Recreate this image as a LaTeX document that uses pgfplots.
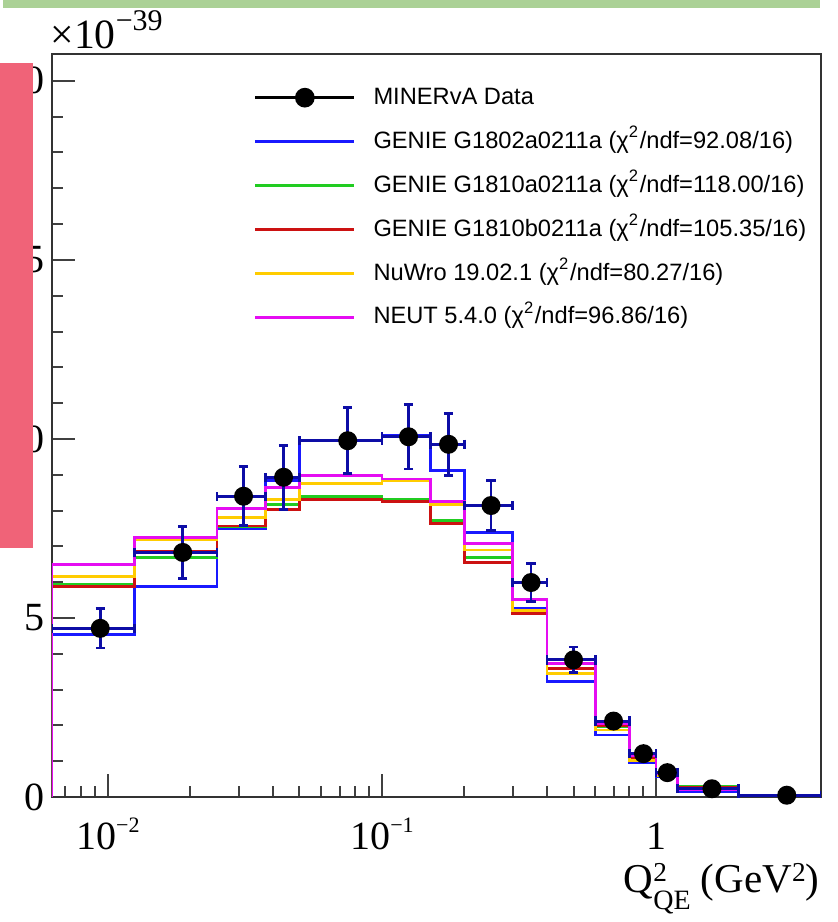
\documentclass[border=0pt]{standalone}
\usepackage{fontspec}
\setmainfont{Liberation Serif}
\newfontfamily\legfont{Liberation Sans}
\usepackage{pgfplots}
\usepackage{pgfplotstable}
\pgfplotsset{compat=1.18}

\definecolor{gblue}{rgb}{0.10,0.10,1.00}
\definecolor{ggreen}{rgb}{0.13,0.80,0.13}
\definecolor{gred}{rgb}{0.80,0.07,0.07}
\definecolor{nuwro}{rgb}{1.00,0.80,0.00}
\definecolor{neut}{rgb}{0.90,0.05,0.95}
\definecolor{navyc}{rgb}{0.05,0.05,0.65}
\definecolor{pinkc}{rgb}{0.94,0.39,0.47}
\definecolor{barc}{rgb}{0.67,0.82,0.59}

\newcommand{\tsup}[1]{\raisebox{5pt}{\fontsize{6.6}{7}\selectfont #1}}
\newcommand{\lsup}[1]{\raisebox{3.2pt}{\fontsize{8.2}{9}\selectfont #1}}

\pgfplotsset{
    datalegend/.style={legend image code/.code={%
        \draw[mark repeat=2, mark phase=2, ##1] plot coordinates {(0pt,0pt) (14.85pt,0pt) (29.7pt,0pt)};}},
}

% MINERvA data: bin centre, value, bin edges as x errors, y error
\pgfplotstableread{
x        y     xm        xp       ey
0.009375 4.71  0.003125  0.003125 0.55
0.01875  6.83  0.00625   0.00625  0.73
0.03125  8.40  0.00625   0.00625  0.82
0.04375  8.93  0.00625   0.00625  0.89
0.075    9.95  0.025     0.025    0.92
0.125    10.06 0.025     0.025    0.90
0.175    9.85  0.025     0.025    0.86
0.25     8.14  0.05      0.05     0.69
0.35     5.99  0.05      0.05     0.52
0.5      3.83  0.1       0.1      0.36
0.7      2.12  0.1       0.1      0.12
0.9      1.21  0.1       0.1      0.08
1.1      0.68  0.1       0.1      0.05
1.6      0.23  0.4       0.4      0.02
3.0      0.05  1.0       1.0      0.01
}\datatab

% generator predictions, value of the bin starting at e
\pgfplotstableread{
e       b     g     r     y     m
0.00625 0     0     0     0     0
0.00625 4.53  5.95  5.87  6.15  6.50
0.0125  5.87  6.69  6.85  7.18  7.25
0.025   7.50  7.55  7.57  7.81  8.06
0.0375  8.84  8.18  8.02  8.32  8.65
0.05    9.95  8.39  8.30  8.76  8.98
0.1     10.11 8.30  8.25  8.83  8.88
0.15    9.13  7.72  7.63  8.18  8.25
0.2     7.39  6.70  6.54  6.90  7.09
0.3     5.27  5.16  5.13  5.22  5.52
0.4     3.22  3.59  3.60  3.45  3.73
0.6     1.73  1.98  1.99  1.87  2.06
0.8     0.96  1.10  1.11  1.01  1.17
1.0     0.57  0.62  0.62  0.60  0.66
1.2     0.16  0.29  0.26  0.22  0.20
2.0     0.03  0.05  0.05  0.04  0.04
4.0     0.03  0.05  0.05  0.04  0.04
}\mctab

\begin{document}
\begin{tikzpicture}
\begin{axis}[
    scale only axis,
    width=230.7pt, height=222.9pt,
    xmode=log,
    xmin=0.00625, xmax=4,
    ymin=0, ymax=20.75,
    axis line style={black!80, line width=0.7pt},
    every tick/.style={black!75, line width=0.6pt},
    major tick length=6.8pt, minor tick length=3.3pt,
    tick align=inside, tick pos=left,
    xtick={0.01,0.1,1},
    xticklabels={{10\tsup{−2}},{10\tsup{−1}},1},
    minor xtick={0.007,0.008,0.009,0.02,0.03,0.04,0.05,0.06,0.07,0.08,0.09,0.2,0.3,0.4,0.5,0.6,0.7,0.8,0.9},
    ytick={0,5,10,15,20},
    yticklabels={0,5,10,15,20},
    minor y tick num=4,
    tick label style={font=\fontsize{12}{13}\selectfont},
    xticklabel style={anchor=base, inner sep=0pt, yshift=-15.6pt},
    yticklabel style={anchor=east, inner sep=0pt, xshift=-2.1pt},
    legend style={draw=none, fill=none, inner sep=0pt, outer sep=0pt,
        at={(0.2625,0.9565)}, anchor=north west,
        font=\legfont\fontsize{7.1}{8.5}\selectfont,
        row sep=6.4pt, column sep=5.3pt,
        nodes={inner sep=0pt, text height=5.3pt, text depth=1.5pt}},
    legend cell align=left,
    legend image code/.code={\draw[#1, line width=0.9pt] (0pt,0pt) -- (29.7pt,0pt);},
]
\addlegendimage{datalegend, black, line width=0.9pt, mark=*, mark size=2.5pt}
\addlegendentry{MINERvA Data}

\addplot[const plot mark left, gblue, line width=0.85pt] table[x=e, y=b]{\mctab};
\addlegendentry{GENIE G1802a0211a (χ\textsuperscript{2}/ndf=92.08/16)}
\addplot[const plot mark left, ggreen, line width=0.85pt] table[x=e, y=g]{\mctab};
\addlegendentry{GENIE G1810a0211a (χ\textsuperscript{2}/ndf=118.00/16)}
\addplot[const plot mark left, gred, line width=0.85pt] table[x=e, y=r]{\mctab};
\addlegendentry{GENIE G1810b0211a (χ\textsuperscript{2}/ndf=105.35/16)}
\addplot[const plot mark left, nuwro, line width=0.85pt] table[x=e, y=y]{\mctab};
\addlegendentry{NuWro 19.02.1 (χ\textsuperscript{2}/ndf=80.27/16)}
\addplot[const plot mark left, neut, line width=0.85pt] table[x=e, y=m]{\mctab};
\addlegendentry{NEUT 5.4.0 (χ\textsuperscript{2}/ndf=96.86/16)}

\addplot[only marks, mark=*, mark size=2.65pt, black, forget plot,
    error bars/.cd,
    x dir=both, x explicit, y dir=both, y explicit,
    error bar style={navyc, line width=0.85pt},
    error mark=-,
    error mark options={rotate=90, navyc, mark size=1.4pt, line width=0.85pt}]
    table[x=x, y=y, x error plus=xp, x error minus=xm, y error=ey]{\datatab};
\end{axis}
\node[anchor=base west, inner sep=0pt, font=\fontsize{12.5}{13}\selectfont]
    at (-0.6pt,224.4pt) {×10\raisebox{5.6pt}{\fontsize{9}{9}\selectfont −39}};
\node[anchor=base east, inner sep=0pt, font=\fontsize{12.3}{13}\selectfont]
    at (230.4pt,-28.5pt) {Q\rlap{\lsup{2}}\raisebox{-5.1pt}{\fontsize{8.4}{9}\selectfont QE}\ (GeV\lsup{2})};
\fill[pinkc] (-15.6pt,74.7pt) rectangle (-5.7pt,220.2pt);
\fill[barc] (-14.7pt,236.7pt) rectangle (230.4pt,239.1pt);
\pgfresetboundingbox
\path[use as bounding box] (-15.6pt,-37.5pt) rectangle (235.8pt,239.1pt);
\end{tikzpicture}
\end{document}
